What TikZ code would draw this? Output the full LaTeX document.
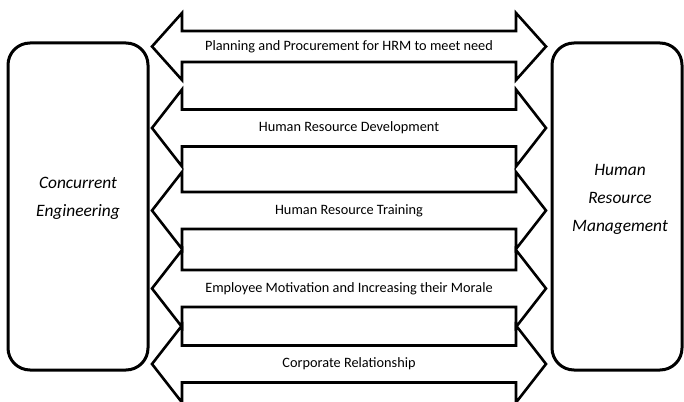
\documentclass[tikz,border=0pt]{standalone}
\usepackage{fontspec}
\setmainfont{Carlito}
\usetikzlibrary{positioning}
\newlength{\basishrmcestructure}
\setlength{\basishrmcestructure}{1pt}

\tikzset{
    sidebox/.style={draw, line width=3\basishrmcestructure, rounded corners=22\basishrmcestructure, minimum height=327\basishrmcestructure},
    sidetext/.style={align=center, font=\fontsize{17.4}{28}\selectfont\itshape},
    linktext/.style={inner sep=0pt, font=\fontsize{14.3}{16}\selectfont},
    linkarrow/.style={draw, line width=2.6\basishrmcestructure, line join=miter}
}

% outline of a two-headed arrow round a text node: name, half shaft, head extend
\newcommand{\hrmlinkarrow}[3]{%
    \draw[linkarrow] (#1.center) ++(-197,0) -- ++(30,#2+#3) -- ++(0,-#3) -- ++(334,0) -- ++(0,#3)
        -- ++(30,-#2-#3) -- ++(-30,-#2-#3) -- ++(0,#3) -- ++(-334,0) -- ++(0,-#3) -- cycle;
}

\begin{document}
\begin{tikzpicture}[x=\basishrmcestructure,y=\basishrmcestructure]
    \useasboundingbox (0,0) rectangle (684,401);

    \draw (78,194.5) 
		node[sidebox, minimum width=140\basishrmcestructure] 
			(concurrent-engineering) {};

    \draw (617,194.5) 
		node[sidebox, minimum width=130\basishrmcestructure] 
			(human-resource-management) {};

    \node[sidetext] (concurrent-engineering-text) at ([yshift=8]concurrent-engineering.center) {Concurrent\\Engineering};
    \node[sidetext] (human-resource-management-text) at ([xshift=3,yshift=7]human-resource-management.center) {Human\\Resource\\Management};

    \node[linktext] (planning-procurement) at (349,354.5) {Planning and Procurement for HRM to meet need};
    \node[linktext] (hr-development) at (349,273) {Human Resource Development};
    \node[linktext] (hr-training) at (349,190.5) {Human Resource Training};
    \node[linktext] (employee-motivation) at (349,112.5) {Employee Motivation and Increasing their Morale};
    \node[linktext] (corporate-relationship) at (349,37) {Corporate Relationship};

    \hrmlinkarrow{planning-procurement}{15.5}{18}
    \hrmlinkarrow{hr-development}{18.5}{20}
    \hrmlinkarrow{hr-training}{18.5}{20}
    \hrmlinkarrow{employee-motivation}{18.5}{20}
    \hrmlinkarrow{corporate-relationship}{18.5}{20}
\end{tikzpicture}
\end{document}
